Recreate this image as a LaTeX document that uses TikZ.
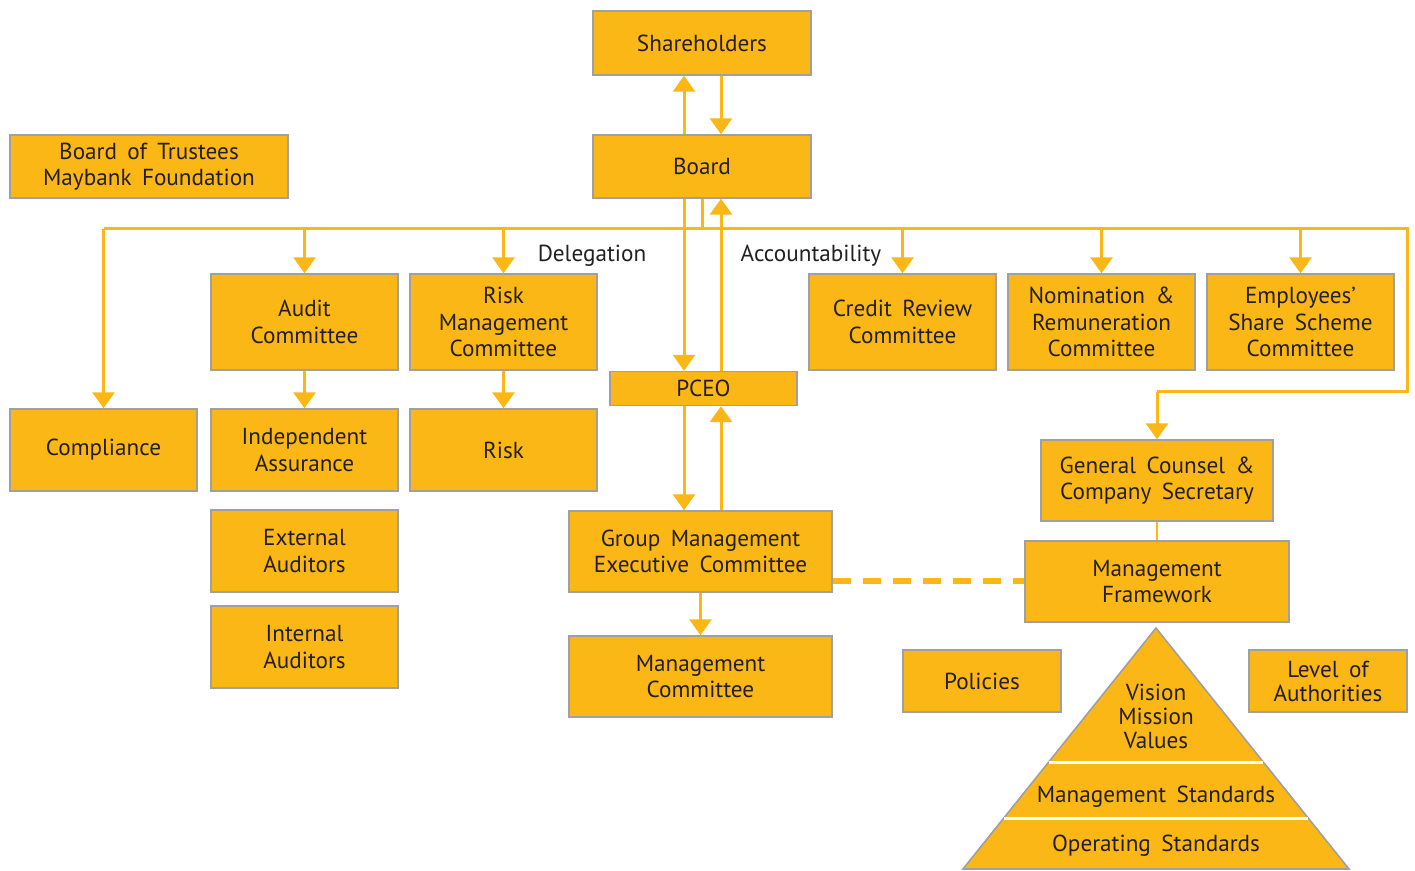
\documentclass[tikz,border=0pt]{standalone}
\usepackage{fontspec}
\setmainfont{PT Sans}
\usetikzlibrary{arrows.meta}
\definecolor{mbGold}{HTML}{FBB715}
\definecolor{mbEdge}{HTML}{A0A0A0}
\definecolor{mbText}{HTML}{231F20}

\begin{document}
\begin{tikzpicture}[x=0.5pt,y=-0.5pt,
  box/.style={draw=mbEdge, line width=0.7pt, fill=mbGold, text=mbText, align=center,
    inner sep=0pt, font={\fontsize{11.6}{13.3}\selectfont\spaceskip=0.45em plus 0.1em}},
  link/.style={draw=mbGold, line width=1.5pt},
  arr/.style={link, -{Triangle[width=11pt,length=8pt]}},
  tag/.style={text=mbText, inner sep=0pt, font={\fontsize{11.6}{13.3}\selectfont}}]
\useasboundingbox (0,0) rectangle (1415,871);
% top of the chart
\node[box, minimum width=109pt, minimum height=32pt] (share) at (702,43) {Shareholders};
\node[box, minimum width=109pt, minimum height=31.5pt] (board) at (702,166.5) {Board};
\node[box, minimum width=139pt, minimum height=31.5pt] (trust) at (149,166.5) {Board of Trustees\\Maybank Foundation};
\node[box, minimum width=93.5pt, minimum height=17pt] (pceo) at (703.5,388.5) {PCEO};
% committees
\node[box, minimum width=93.5pt, minimum height=48pt] (audit) at (304.5,322) {Audit\\Committee};
\node[box, minimum width=93.5pt, minimum height=48pt] (rmc) at (503.5,322) {Risk\\Management\\Committee};
\node[box, minimum width=93.5pt, minimum height=48pt] (crc) at (902.5,322) {Credit Review\\Committee};
\node[box, minimum width=93.5pt, minimum height=48pt] (nrc) at (1101.5,322) {Nomination \&\\Remuneration\\Committee};
\node[box, minimum width=93.5pt, minimum height=48pt] (essc) at (1300.5,322) {Employees’\\Share Scheme\\Committee};
% second row
\node[box, minimum width=93.5pt, minimum height=41pt] (comp) at (103.5,450) {Compliance};
\node[box, minimum width=93.5pt, minimum height=41pt] (indep) at (304.5,450) {Independent\\Assurance};
\node[box, minimum width=93.5pt, minimum height=41pt] (risk) at (503.5,450) {Risk};
\node[box, minimum width=93.5pt, minimum height=41pt] (extaud) at (304.5,551) {External\\Auditors};
\node[box, minimum width=93.5pt, minimum height=41pt] (intaud) at (304.5,647) {Internal\\Auditors};
% management side
\node[box, minimum width=131.5pt, minimum height=40.5pt] (gmec) at (700.5,551.5) {Group Management\\Executive Committee};
\node[box, minimum width=131.5pt, minimum height=40.5pt] (mc) at (700.5,676.5) {Management\\Committee};
\node[box, minimum width=116pt, minimum height=40.5pt] (gc) at (1157,480.5) {General Counsel \&\\Company Secretary};
\node[box, minimum width=132pt, minimum height=40.5pt] (mf) at (1157,581.5) {Management\\Framework};
\node[box, minimum width=79pt, minimum height=31pt] (pol) at (982,681) {Policies};
\node[box, minimum width=79pt, minimum height=31pt, font={\fontsize{11.6}{12}\selectfont\spaceskip=0.45em plus 0.1em}] (loa) at (1328,681) {Level of\\Authorities};
% pyramid
\draw[draw=mbEdge, line width=0.8pt, fill=mbGold] (1156,628) -- (1349,869) -- (963,869) -- cycle;
\draw[white, line width=1.5pt] (1049,762) -- (1263,762);
\draw[white, line width=1.5pt] (1004,818) -- (1308,818);
\node[tag, align=center, font={\fontsize{11.6}{12}\selectfont}] (vmv) at (1156,716) {Vision\\Mission\\Values};
\node[tag] (mstd) at (1156,797) {Management\hspace{0.45em}Standards};
\node[tag] (ostd) at (1156,846) {Operating\hspace{0.45em}Standards};
% labels
\node[tag] (deleg) at (592,256) {Delegation};
\node[tag] (acct) at (811,256) {Accountability};
% connectors
\coordinate (bus) at (702,229);
\draw[link] (board.south) -- (bus);
\draw[link] (bus -| comp.north) -- (1407,229) -- (1407,392) coordinate (busR) -- (busR -| gc.north);
\draw[arr] (busR -| gc.north) -- (gc.north);
\foreach \n in {comp,audit,rmc,crc,nrc,essc}
  \draw[arr] (bus -| \n.north) -- (\n.north);
\draw[arr] (audit.south) -- (indep.north);
\draw[arr] (rmc.south) -- (risk.north);
\draw[arr] ([xshift=-9pt]board.north) -- ([xshift=-9pt]board.north |- share.south);
\draw[arr] ([xshift=9.5pt]share.south) -- ([xshift=9.5pt]share.south |- board.north);
\draw[arr] ([xshift=-9pt]board.south) -- ([xshift=-9pt]board.south |- pceo.north);
\draw[arr] ([xshift=9.5pt]board.south |- pceo.north) -- ([xshift=9.5pt]board.south);
\draw[arr] ([xshift=-9pt]board.south |- pceo.south) -- ([xshift=-9pt]board.south |- gmec.north);
\draw[arr] ([xshift=9.5pt]board.south |- gmec.north) -- ([xshift=9.5pt]board.south |- pceo.south);
\draw[arr] (gmec.south) -- (mc.north);
\draw[draw=mbGold, line width=1pt] (gc.south) -- (mf.north);
\draw[draw=mbGold, line width=3pt, dash pattern=on 9pt off 6pt] (mf.west -| gmec.east) -- (mf.west);
\end{tikzpicture}
\end{document}
